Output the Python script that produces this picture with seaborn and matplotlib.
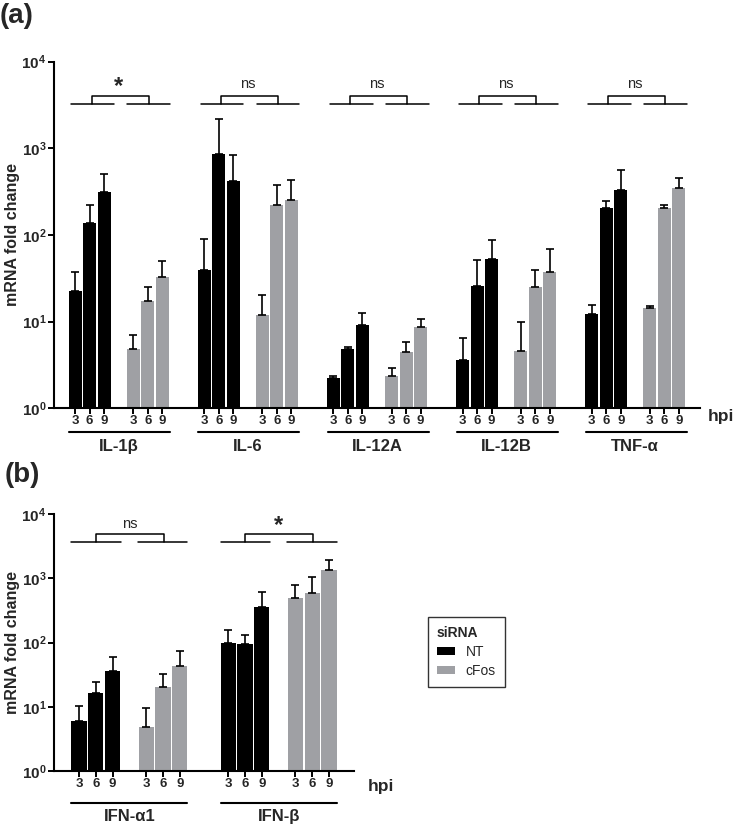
import numpy as np
import pandas as pd
import seaborn as sns
import matplotlib.pyplot as plt
import matplotlib.transforms as mtransforms

sns.set_style("white")
plt.rcParams['font.family'] = ['Liberation Sans', 'DejaVu Sans']
plt.rcParams['mathtext.fontset'] = 'custom'
plt.rcParams['mathtext.rm'] = 'Liberation Sans'
plt.rcParams['mathtext.bf'] = 'Liberation Sans:bold'

# data (mean, and top of the upper error bar)
hpi = ['3', '6', '9']

genes_a = ['IL-1β', 'IL-6', 'IL-12A', 'IL-12B', 'TNF-α']
nt_a = [[22.6, 137, 312], [39.5, 864, 418], [2.22, 4.8, 9.16], [3.61, 25.8, 53], [12.3, 204, 332]]
nt_a_err = [[37.8, 223, 512], [90.8, 2190, 848], [2.34, 5.06, 12.5], [6.43, 52, 88.5], [15.7, 248, 560]]
cfos_a = [[4.8, 17.2, 32.6], [12.0, 223, 252], [2.34, 4.47, 8.76], [4.59, 25.2, 37.8], [14.4, 204, 350]]
cfos_a_err = [[7.0, 25, 50.2], [20.5, 379, 433], [2.94, 5.83, 10.6], [9.9, 39.5, 69.7], [15.3, 224, 456]]
sig_a = ['*', 'ns', 'ns', 'ns', 'ns']

genes_b = ['IFN-α1', 'IFN-β']
nt_b = [[5.9, 16.2, 35.7], [99.6, 94, 355]]
nt_b_err = [[10.3, 24.6, 60], [155, 131, 614]]
cfos_b = [[4.9, 20.1, 43.2], [501, 593, 1367]]
cfos_b_err = [[9.7, 32, 74], [789, 1040, 1914]]
sig_b = ['ns', '*']

GREY = '#9fa0a4'
PERIOD = 8.88


def make_df(genes, nt, nt_err, cfos, cfos_err):
    rows = []
    for g in range(len(genes)):
        for i in range(3):
            rows.append((g * PERIOD + i, nt[g][i], nt_err[g][i], 'NT', hpi[i]))
            rows.append((g * PERIOD + 4 + i, cfos[g][i], cfos_err[g][i], 'cFos', hpi[i]))
    df = pd.DataFrame(rows, columns=['pos', 'value', 'err', 'siRNA', 'hpi'])
    return df.sort_values('pos').reset_index(drop=True)


def draw_panel(ax, genes, df, sig, xpad, lines, y_sig, legend):
    sns.barplot(data=df, x='pos', y='value', hue='siRNA', hue_order=['NT', 'cFos'],
                palette={'NT': 'black', 'cFos': GREY}, native_scale=True, dodge=False,
                width=0.9, saturation=1, linewidth=0, errorbar=None, legend=legend, ax=ax)
    ax.errorbar(df['pos'], df['value'], yerr=[np.zeros(len(df)), df['err'] - df['value']],
                fmt='none', ecolor='black', elinewidth=1.2, capsize=2.6, capthick=1.2, zorder=3)
    ax.set_yscale('log')
    ax.set_ylim(1, 1e4)
    last = (len(genes) - 1) * PERIOD + 6
    ax.set_xlim(-xpad, last + xpad)
    ax.set_yticks([1, 10, 100, 1000, 10000])
    ax.set_yticklabels([r'$\mathbf{10^{%d}}$' % k for k in range(5)], fontsize=11)
    ax.yaxis.set_minor_locator(plt.NullLocator())
    ax.set_xticks(df['pos'])
    ax.set_xticklabels(df['hpi'], fontsize=9.5, fontweight='bold')
    ax.tick_params(axis='x', length=4, width=1.4, pad=1, color='black', direction='out', bottom=True)
    ax.tick_params(axis='y', length=4, width=1.4, pad=1.5, color='black', direction='out', left=True)
    ax.set_xlabel('')
    ax.set_ylabel('mRNA fold change', fontsize=11.5, fontweight='bold')
    for s in ['top', 'right']:
        ax.spines[s].set_visible(False)
    for s in ['left', 'bottom']:
        ax.spines[s].set_linewidth(1.5)
        ax.spines[s].set_color('black')

    # significance brackets
    y_line, y_top, y_txt = y_sig
    l0, l1, r0, r1, k0, k1 = lines
    for g in range(len(genes)):
        x0 = g * PERIOD
        ax.plot([x0 + l0, x0 + l1], [y_line, y_line], color='black', lw=1.1, clip_on=False)
        ax.plot([x0 + r0, x0 + r1], [y_line, y_line], color='black', lw=1.1, clip_on=False)
        ax.plot([x0 + k0, x0 + k0, x0 + k1, x0 + k1], [y_line, y_top, y_top, y_line],
                color='black', lw=1.1, clip_on=False)
        if sig[g] == '*':
            ax.text(x0 + 3, y_txt * 0.93, '*', ha='center', va='center', fontsize=17, fontweight='bold')
        else:
            ax.text(x0 + 3, y_txt, sig[g], ha='center', va='center', fontsize=10.5)


fig = plt.figure(figsize=(7.35, 8.26), dpi=100)
W, H = 735, 826
ax_a = fig.add_axes([54 / W, 1 - 408.3 / H, 646 / W, 346.6 / H])
ax_b = fig.add_axes([54 / W, 1 - 771 / H, 300 / W, 257 / H])

df_a = make_df(genes_a, nt_a, nt_a_err, cfos_a, cfos_a_err)
df_b = make_df(genes_b, nt_b, nt_b_err, cfos_b, cfos_b_err)

draw_panel(ax_a, genes_a, df_a, sig_a, 1.45, (-0.25, 2.7, 3.6, 6.55, 1.15, 5.05),
           (10 ** 3.51, 10 ** 3.606, 10 ** 3.745), False)
draw_panel(ax_b, genes_b, df_b, sig_b, 1.49, (-0.45, 2.5, 3.5, 6.45, 1.0, 5.05),
           (10 ** 3.562, 10 ** 3.692, 10 ** 3.847), True)

ax_a.yaxis.set_label_coords(-34 / 646, 0.5)
ax_b.yaxis.set_label_coords(-34 / 300, 0.5)

# gene group underlines and names
for ax, genes, yl, yt, (u0, u1) in [(ax_a, genes_a, -0.0675, -0.109, (-0.4, 6.55)),
                                    (ax_b, genes_b, -0.1257, -0.178, (-0.45, 6.45))]:
    trans = mtransforms.blended_transform_factory(ax.transData, ax.transAxes)
    for g, name in enumerate(genes):
        x0 = g * PERIOD
        ax.plot([x0 + u0, x0 + u1], [yl, yl], color='black', lw=1.5, transform=trans, clip_on=False)
        ax.text(x0 + 3, yt, name, transform=trans, ha='center', va='center',
                fontsize=12, fontweight='bold')

ax_a.text(1.012, -0.024, 'hpi', transform=ax_a.transAxes, ha='left', va='center',
          fontsize=12.5, fontweight='bold')
ax_b.text(1.047, -0.061, 'hpi', transform=ax_b.transAxes, ha='left', va='center',
          fontsize=12.5, fontweight='bold')

fig.text(0 / W, 1 - 16 / H, '(a)', ha='left', va='center', fontsize=20, fontweight='bold')
fig.text(5 / W, 1 - 475 / H, '(b)', ha='left', va='center', fontsize=20, fontweight='bold')

sns.move_legend(ax_b, loc='upper left', bbox_to_anchor=((428 - 54) / 300, (771 - 617) / 257),
                title='siRNA', frameon=True, fontsize=10, title_fontproperties={'weight': 'bold', 'size': 10},
                handlelength=1.3, handleheight=0.55, handletextpad=0.75, borderpad=0.65,
                borderaxespad=0, labelspacing=0.35, alignment='left', fancybox=False)
leg = ax_b.get_legend()
leg.get_frame().set_edgecolor('black')
leg.get_frame().set_linewidth(1.0)

fig.savefig('out.png', dpi=100)
